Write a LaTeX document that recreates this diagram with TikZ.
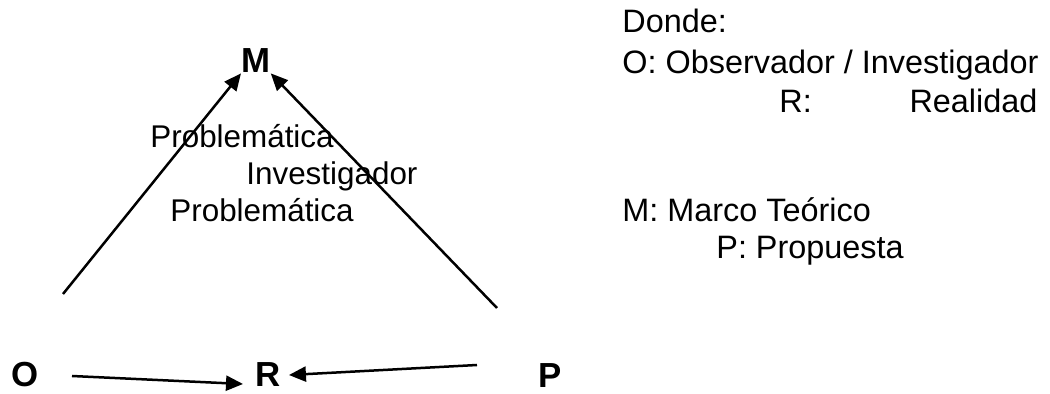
\documentclass[tikz,border=0pt]{standalone}
\usepackage{fontspec}
\setmainfont{Liberation Sans}
\usetikzlibrary{arrows.meta}
\begin{document}
\begin{tikzpicture}
        [x=0.5pt,y=-0.5pt,every node/.style={inner sep=0pt, anchor=base west, font=\fontsize{15.7}{18}\selectfont},
         letter/.style={font=\fontsize{17.4}{20}\selectfont\bfseries},
         key/.style={font=\fontsize{16.2}{19}\selectfont},
         arr/.style={line width=1.25pt, -{Triangle[length=8.5pt,width=7.5pt]}}]
      \useasboundingbox (0,0) rectangle (1050,394);
      \node[letter] (M) at (241,73) {M};
      \node[letter] (O) at (11,387) {O};
      \node[letter] (R) at (255,387) {R};
      \node[letter] (P) at (538,388) {P};

      \node (prob1) at (150,148) {Problemática};
      \node (inv) at (246,185) {Investigador};
      \node (prob2) at (170,222) {Problemática};

      \node[key] (donde) at (622,33) {Donde:};
      \node[key] (keyO) at (622,74) {O: Observador / Investigador};
      \node[key] (keyR) at (779,113) {\makebox[129pt]{R:\hfill Realidad}};
      \node[key] (keyM) at (622,222) {M: Marco Teórico};
      \node[key] (keyP) at (716,259) {P: Propuesta};

      \coordinate (oUp) at (63,294);
      \coordinate (oRight) at (72,376);
      \coordinate (pUp) at (497,308);
      \coordinate (pLeft) at (477,365);

      \foreach \from/\to in {oUp/M.south west, pUp/M.south east}
        \draw[arr] (\from) -- (\to);
      \draw[arr] (oRight) -- ([xshift=-6pt,yshift=1.5pt]R.base west);
      \draw[arr] (pLeft) -- ([xshift=4pt]R.east);
    \end{tikzpicture}
\end{document}
